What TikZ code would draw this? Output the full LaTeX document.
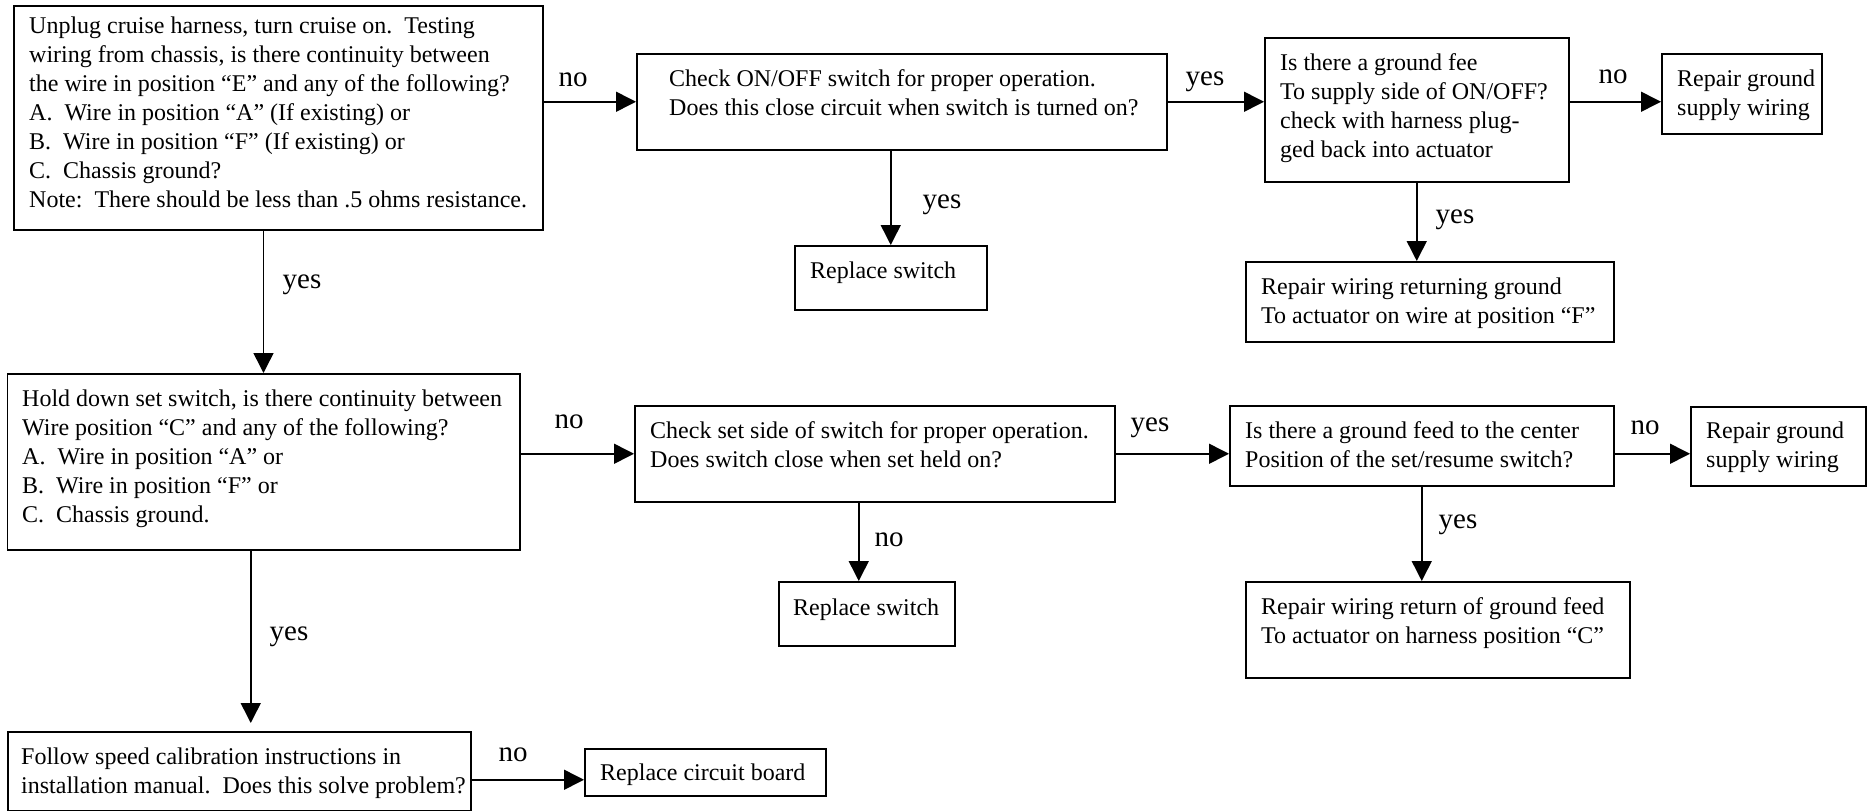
\documentclass[tikz,border=0pt]{standalone}
\usepackage{fontspec}
\setmainfont{Liberation Serif}
\usetikzlibrary{arrows.meta,calc}
\begin{document}
\begin{tikzpicture}[x=1pt,y=-1pt,
 box/.style={draw, line width=1.5pt, inner sep=0pt, anchor=north west},
 txt/.style={anchor=north west, inner sep=0pt, align=left, font=\fontsize{24}{29}\selectfont},
 lab/.style={inner sep=0pt, font=\fontsize{29}{34}\selectfont},
 arr/.style={line width=1.5pt, -{Triangle[length=20pt,width=20pt]}}]
\useasboundingbox (0,0) rectangle (1874,811);
% boxes
\node[box, minimum width=529pt, minimum height=224pt] (B1) at (13,5) {};
\node[box, minimum width=530pt, minimum height=96pt] (B2) at (636,53) {};
\node[box, minimum width=304pt, minimum height=144pt] (B3) at (1264,37) {};
\node[box, minimum width=160pt, minimum height=80pt] (B4) at (1661,53) {};
\node[box, minimum width=192pt, minimum height=64pt] (B5) at (794,245) {};
\node[box, minimum width=368pt, minimum height=80pt] (B6) at (1245,261) {};
\node[box, minimum width=512.5pt, minimum height=176pt] (B7) at (6.5,373) {};
\node[box, minimum width=480pt, minimum height=96pt] (B8) at (634,405) {};
\node[box, minimum width=384pt, minimum height=80pt] (B9) at (1229,405) {};
\node[box, minimum width=175pt, minimum height=79pt] (B10) at (1690,406) {};
\node[box, minimum width=176pt, minimum height=64pt] (B11) at (778,581) {};
\node[box, minimum width=384pt, minimum height=96pt] (B12) at (1245,581) {};
\node[box, minimum width=463pt, minimum height=79pt] (B13) at (7,731) {};
\node[box, minimum width=241pt, minimum height=47pt] (B14) at (584,748) {};
% texts
\node[txt] (T1) at (29,12.7) {\strut Unplug cruise harness, turn cruise on.~~Testing\\
wiring from chassis, is there continuity between\\
the wire in position “E” and any of the following?\\
A.~~Wire in position “A” (If existing) or\\
B.~~Wire in position “F” (If existing) or\\
C.~~Chassis ground?\\
Note:~~There should be less than .5 ohms resistance.};
\node[txt] (T2) at (669,65.7) {\strut Check ON/OFF switch for proper operation.\\
Does this close circuit when switch is turned on?};
\node[txt] (T3) at (1280,49.7) {\strut Is there a ground fee\\
To supply side of ON/OFF?\\
check with harness plug-\\
ged back into actuator};
\node[txt] (T4) at (1677,65.7) {\strut Repair ground\\supply wiring};
\node[txt] (T5) at (810,257.7) {\strut Replace switch};
\node[txt] (T6) at (1261,273.7) {\strut Repair wiring returning ground\\
To actuator on wire at position “F”};
\node[txt] (T7) at (22,385.7) {\strut Hold down set switch, is there continuity between\\
Wire position “C” and any of the following?\\
A.~~Wire in position “A” or\\
B.~~Wire in position “F” or\\
C.~~Chassis ground.};
\node[txt] (T8) at (650,417.7) {\strut Check set side of switch for proper operation.\\
Does switch close when set held on?};
\node[txt] (T9) at (1245,417.7) {\strut Is there a ground feed to the center\\
Position of the set/resume switch?};
\node[txt] (T10) at (1706,417.7) {\strut Repair ground\\supply wiring};
\node[txt] (T11) at (793,594.7) {\strut Replace switch};
\node[txt] (T12) at (1261,593.7) {\strut Repair wiring return of ground feed\\
To actuator on harness position “C”};
\node[txt] (T13) at (21,743.7) {\strut Follow speed calibration instructions in\\
installation manual.~~Does this solve problem?};
\node[txt] (T14) at (600,759.7) {\strut Replace circuit board};
% helper coordinates
\coordinate (c10) at ($(B11.north)+(-8,0)$);
\coordinate (c12) at ($(B13.north)+(11.5,0)$);
\coordinate (c13) at ($(B13.east)+(0,8.5)$);
% connectors
\draw[arr] (B1.east |- B2.west) -- (B2.west);
\draw[arr] (B2.east) -- (B3.west |- B2.east);
\draw[arr] (B3.east |- B2.east) -- (B4.west |- B2.east);
\draw[arr] (B5.north |- B2.south) -- (B5.north);
\draw[arr] (B3.south) -- (B3.south |- B6.north);
\draw[arr] (B7.north |- B1.south) -- (B7.north);
\draw[arr] (B7.east |- B8.west) -- (B8.west);
\draw[arr] (B8.east) -- (B9.west |- B8.east);
\draw[arr] (B9.east |- B8.east) -- (B10.west |- B8.east);
\draw[arr] (c10 |- B8.south) -- (c10);
\draw[arr] (B9.south) -- (B9.south |- B12.north);
\draw[arr, shorten >=8pt] (c12 |- B7.south) -- (c12);
\draw[arr] (c13) -- (c13 -| B14.west);
% labels
\node[lab] (L1) at (573,80) {no};
\node[lab] (L2) at (1205,82) {yes};
\node[lab] (L3) at (1613,77) {no};
\node[lab] (L4) at (942,205) {yes};
\node[lab] (L5) at (1455,220) {yes};
\node[lab] (L6) at (302,285) {yes};
\node[lab] (L7) at (569,422) {no};
\node[lab] (L8) at (1150,428) {yes};
\node[lab] (L9) at (1645,428) {no};
\node[lab] (L10) at (889,540) {no};
\node[lab] (L11) at (1458,525) {yes};
\node[lab] (L12) at (289,637) {yes};
\node[lab] (L13) at (513,755) {no};
\end{tikzpicture}
\end{document}
